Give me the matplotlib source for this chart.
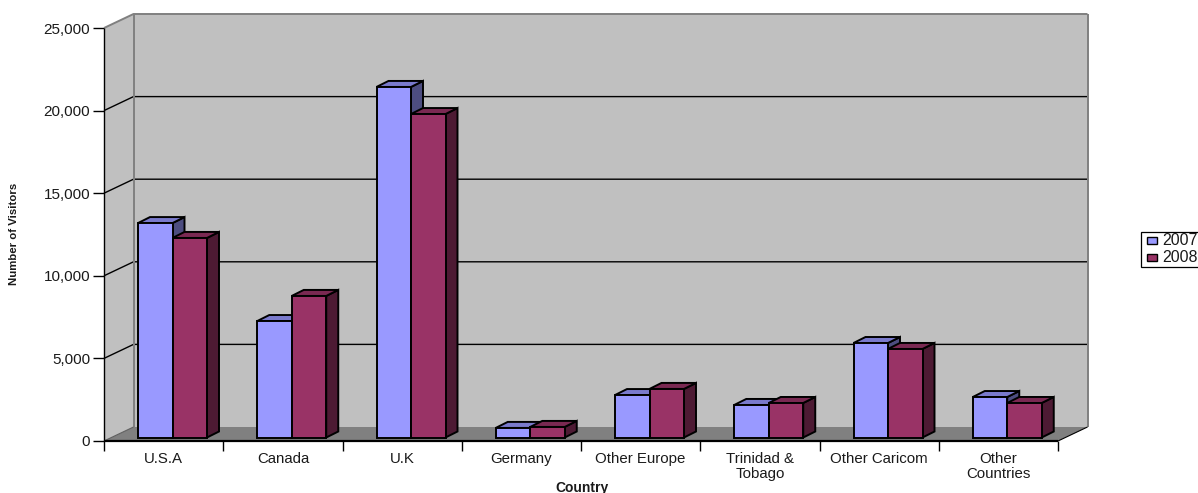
import numpy as np
import matplotlib
matplotlib.use('Agg')
import matplotlib.pyplot as plt
from matplotlib.patches import Polygon, Rectangle

plt.rcParams['font.family'] = ['Liberation Sans', 'DejaVu Sans']

countries = ['U.S.A', 'Canada', 'U.K', 'Germany', 'Other Europe',
             'Trinidad &\nTobago', 'Other Caricom', 'Other\nCountries']
visitors2007 = [12980, 7050, 21220, 580, 2570, 1970, 5720, 2450]
visitors2008 = [12080, 8570, 19580, 640, 2940, 2090, 5360, 2090]
yticks = [0, 5000, 10000, 15000, 20000, 25000]
years = ['2007', '2008']

# sizes of the fake 3d box, in pixels of the output
pxX = 8 / 954
pxY = 25000 / 413
wallX = 29.5 * pxX
wallY = 14 * pxY
depthX = 12 * pxX
depthY = 6 * pxY
baseY = 3.5 * pxY
barLeft = 34 * pxX
barW = 34.5 * pxX
textColor = '#1a1a1a'

fig = plt.figure(figsize=(11.98, 4.93), dpi=100)
ax = fig.add_axes([104 / 1198, 52 / 493, 954 / 1198, 413 / 493])
ax.set_xlim(0, 8)
ax.set_ylim(0, 25000)
ax.patch.set_visible(False)
for s in ax.spines.values():
    s.set_visible(False)


def poly(pts, fc, ec='none', lw=0, z=1):
    ax.add_patch(Polygon(pts, closed=True, facecolor=fc, edgecolor=ec, linewidth=lw,
                         clip_on=False, zorder=z, joinstyle='miter'))


def line(xs, ys, color='black', lw=1.0, z=2):
    ax.plot(xs, ys, color=color, lw=lw, clip_on=False, zorder=z, solid_capstyle='butt')


# walls and floor
poly([(wallX, wallY), (8 + wallX, wallY), (8 + wallX, 25000 + wallY), (wallX, 25000 + wallY)], '#C0C0C0')
poly([(0, 0), (wallX, wallY), (wallX, 25000 + wallY), (0, 25000)], '#C0C0C0')
poly([(0, 0), (8, 0), (8 + wallX, wallY), (wallX, wallY)], '#808080')

for v in yticks[1:-1]:
    line([0, wallX, 8 + wallX], [v, v + wallY, v + wallY], lw=1.0)
line([wallX, wallX], [wallY, 25000 + wallY], color='#808080', lw=1.4)
line([8 + wallX, 8 + wallX], [wallY, 25000 + wallY], color='#808080', lw=1.4)
line([0, wallX, 8 + wallX], [25000, 25000 + wallY, 25000 + wallY], color='#808080', lw=1.4)
line([0, wallX], [0, wallY], color='#606060', lw=0.8)
line([8, 8 + wallX], [0, wallY], lw=0.8)
line([0, 0], [0, 25000], lw=1.0)
line([0, 8], [0, 0], lw=1.6)


def bar3d(x, val, front, top, side):
    y0 = baseY
    y1 = baseY + val
    poly([(x + barW, y0), (x + barW + depthX, y0 + depthY), (x + barW + depthX, y1 + depthY), (x + barW, y1)],
         side, 'black', 1.4, 3)
    poly([(x, y1), (x + depthX, y1 + depthY), (x + barW + depthX, y1 + depthY), (x + barW, y1)],
         top, 'black', 1.4, 3)
    poly([(x, y0), (x + barW, y0), (x + barW, y1), (x, y1)], front, 'black', 1.4, 3)


for i in range(len(countries)):
    bar3d(i + barLeft, visitors2007[i], '#9999FF', '#7A7ACC', '#4D4D80')
    bar3d(i + barLeft + barW, visitors2008[i], '#993366', '#7A2952', '#4D1A33')

ax.set_yticks(yticks)
ax.set_yticklabels([f'{v:,}' for v in yticks], fontsize=11, color=textColor)
ax.set_xticks(np.arange(0, 9))
ax.set_xticklabels([])
ax.set_xticks(np.arange(len(countries)) + 0.5, minor=True)
ax.set_xticklabels(countries, minor=True, fontsize=10.8, linespacing=1.1, color=textColor)
ax.tick_params(axis='y', length=8, width=1.0, pad=2)
ax.tick_params(axis='x', which='major', length=7.5, width=1.0)
ax.tick_params(axis='x', which='minor', length=0, pad=8)

fig.text(582 / 1198, 1 - 488 / 493, 'Country', fontsize=10, fontweight='bold', ha='center', va='center',
         color=textColor)
fig.text(14 / 1198, 1 - 234 / 493, 'Number of Visitors', fontsize=8.2, fontweight='bold',
         rotation=90, ha='center', va='center', color=textColor)

# legend box runs off the right edge of the picture like the original
fig.add_artist(Rectangle((1141 / 1198, 1 - 266.5 / 493), 60 / 1198, 34.5 / 493, transform=fig.transFigure,
                         facecolor='white', edgecolor='black', linewidth=0.9))
for name, color, top in zip(years, ['#9999FF', '#993366'], [237, 254]):
    fig.add_artist(Rectangle((1147 / 1198, 1 - (top + 7) / 493), 10 / 1198, 7 / 493, transform=fig.transFigure,
                             facecolor=color, edgecolor='black', linewidth=1.0))
    fig.text(1162 / 1198, 1 - (top + 3.5) / 493, name, fontsize=11.5, ha='left', va='center', color=textColor)

fig.savefig('out.png', dpi=100)
